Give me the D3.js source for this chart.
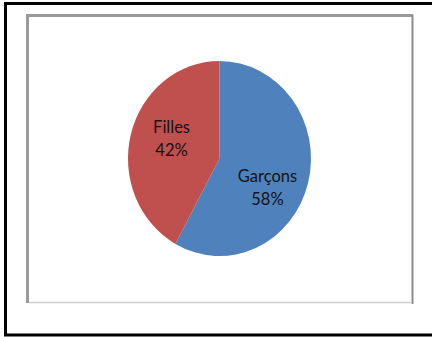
<!DOCTYPE html>
<html>
<head>
<meta charset="utf-8">
<script src="https://cdn.jsdelivr.net/npm/d3@7"></script>
<style>
  html, body { margin: 0; padding: 0; background: #fff; }
  svg { display: block; }
</style>
</head>
<body>
<svg id="chart" width="432" height="337"></svg>
<script>
/* ================================
   DATA
================================ */

const categories = ["Garçons", "Filles"];
const shares     = [58, 42];
const colors     = ["#4F81BD", "#C0504D"];

/* ================================
   PIE CHART
================================ */

const svg = d3.select("#chart");
const width = 432, height = 337;

// outer black frame (right side runs off the picture)
svg.append("path")
  .attr("d", "M440,3.5 H5.5 V335 H440")
  .attr("fill", "none")
  .attr("stroke", "#000")
  .attr("stroke-width", 3);

// chart area frame
svg.append("path")
  .attr("d", "M27.5,303 V15.5 H413")
  .attr("fill", "none")
  .attr("stroke", "#9a9a9a")
  .attr("stroke-width", 3);

svg.append("line")
  .attr("x1", 412.5).attr("y1", 15).attr("x2", 412.5).attr("y2", 304)
  .attr("stroke", "#8c8c8c")
  .attr("stroke-width", 2);

svg.append("line")
  .attr("x1", 29).attr("y1", 302.5).attr("x2", 412).attr("y2", 302.5)
  .attr("stroke", "#cfcfcf")
  .attr("stroke-width", 1.5);

const cx = 219.5, cy = 158.5;
const rx = 91.5, ry = 97.5;

const pie = d3.pie().sort(null).value(d => d.value);
const arcs = pie(categories.map((c, i) => ({ name: c, value: shares[i], color: colors[i] })));

const arc = d3.arc().innerRadius(0).outerRadius(rx);

// slices (slightly taller than wide, like the source)
svg.append("g")
  .attr("transform", `translate(${cx},${cy}) scale(1,${ry / rx})`)
  .selectAll("path")
  .data(arcs)
  .join("path")
  .attr("d", arc)
  .attr("fill", d => d.data.color);

// labels
const labelArc = d3.arc().innerRadius(54).outerRadius(54);
const rot = 13 * Math.PI / 180;

const labels = svg.append("g")
  .attr("transform", `translate(${cx},${cy})`)
  .selectAll("text")
  .data(arcs)
  .join("text")
  .attr("transform", d => {
    const p = labelArc.centroid({ startAngle: d.startAngle + rot, endAngle: d.endAngle + rot });
    return `translate(${p[0]},${p[1]})`;
  })
  .attr("text-anchor", "middle")
  .style("font-family", "Lato, 'Open Sans', sans-serif")
  .style("font-size", "16.5px")
  .style("fill", "#141414");

labels.append("tspan")
  .attr("x", 0)
  .attr("y", -1)
  .text(d => d.data.name);

labels.append("tspan")
  .attr("x", 0)
  .attr("y", 22)
  .text(d => d.data.value + "%");
</script>
</body>
</html>
